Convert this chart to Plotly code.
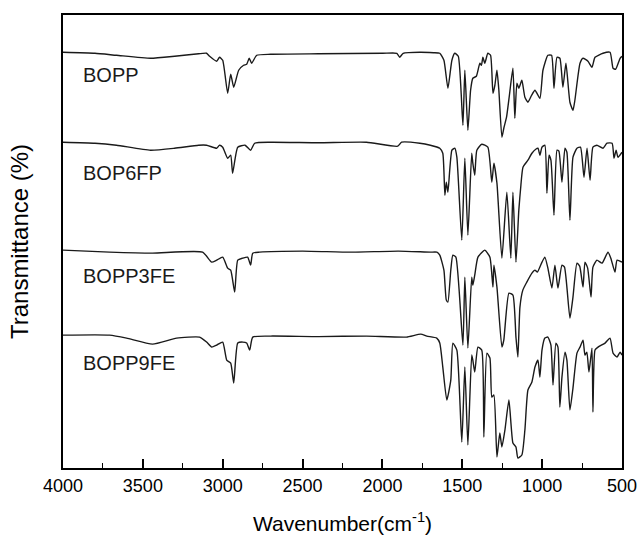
import plotly.graph_objects as go

# ---- data (wavenumber in cm^-1, transmittance in arbitrary offset units) ----
wn_bopp = [4000, 3800, 3665, 3452, 3301, 3151, 3101, 3082, 3038, 3020, 3000, 2969, 2950, 2931, 2900, 2869, 2850, 2834, 2819, 2787,
           2700, 2400, 1998, 1910, 1892, 1870, 1766, 1680, 1641, 1615, 1590, 1565, 1547, 1525, 1496, 1484, 1465, 1448, 1434, 1412,
           1390, 1380, 1371, 1359, 1340, 1323, 1308, 1296, 1283, 1271, 1252, 1240, 1223, 1205, 1183, 1171, 1158, 1146, 1127, 1108,
           1089, 1066, 1045, 1014, 995, 964, 941, 926, 907, 889, 870, 851, 826, 807, 795, 763, 744, 713, 688, 669,
           619, 575, 556, 540, 512, 500]
t_bopp = [416, 415, 413, 410, 412, 414.5, 415, 412, 407, 411, 408, 375, 394, 381, 398, 403, 404, 410, 405, 413,
          414, 414.5, 415, 415, 411, 415, 416, 415.5, 415, 408, 380, 408, 415, 412, 343, 398, 338, 378, 390, 392,
          405, 403, 411, 405, 415, 413, 375, 383, 398, 378, 331, 340, 351, 373, 400, 350, 385, 380, 388, 371,
          366, 373, 378, 370, 398, 413, 413, 380, 411, 410, 381, 405, 366, 358, 368, 405, 410, 407, 401, 411,
          415, 416, 400, 399, 410, 412]

wn_bop6fp = [4000, 3800, 3665, 3452, 3301, 3151, 3101, 3038, 3020, 3000, 2969, 2950, 2938, 2906, 2860, 2825, 2800, 2700, 2400, 2100,
             1904, 1880, 1766, 1700, 1641, 1622, 1609, 1600, 1590, 1565, 1547, 1534, 1503, 1484, 1465, 1441, 1434, 1422, 1409, 1378,
             1340, 1315, 1302, 1283, 1252, 1221, 1196, 1183, 1164, 1146, 1133, 1120, 1089, 1064, 1040, 1026, 1014, 1001, 983, 970,
             957, 945, 926, 907, 895, 876, 857, 845, 826, 807, 782, 760, 738, 719, 700, 682, 657, 619, 594, 562,
             550, 537, 525, 500]
t_bop6fp = [326, 325, 323, 318, 320, 323, 323, 320, 323, 321, 310, 313, 295, 321, 323, 318, 325, 326, 325.5, 326,
            322, 326, 325, 323, 320, 315, 273, 286, 276, 318, 320, 311, 228, 310, 233, 315, 305, 293, 318, 324,
            321, 286, 305, 285, 210, 276, 210, 276, 206, 258, 283, 301, 308, 315, 319, 320, 313, 321, 323, 275,
            313, 308, 253, 318, 317, 286, 320, 316, 248, 311, 320, 321, 291, 320, 288, 321, 323, 320, 325, 325,
            310, 318, 311, 316]

wn_bopp3fe = [4000, 3709, 3439, 3126, 3069, 3038, 3000, 2969, 2950, 2925, 2906, 2875, 2844, 2825, 2812, 2769, 2500, 2200, 1900, 1700,
              1659, 1641, 1615, 1600, 1590, 1572, 1559, 1540, 1496, 1484, 1465, 1441, 1434, 1422, 1402, 1359, 1327, 1308, 1302, 1283,
              1252, 1240, 1208, 1183, 1164, 1152, 1139, 1121, 1096, 1064, 1045, 1030, 1001, 983, 964, 939, 920, 901, 876, 860,
              826, 807, 782, 765, 744, 732, 715, 694, 682, 657, 625, 588, 570, 544, 531, 500]
t_bopp3fe = [218, 216, 215, 216, 206, 208, 211, 200, 198, 176, 208, 210, 211, 203, 215, 216, 217, 216, 217, 216,
             216, 213, 198, 168, 166, 198, 213, 211, 123, 191, 120, 191, 183, 193, 211, 218, 211, 181, 203, 181,
             121, 128, 175, 173, 131, 111, 161, 178, 186, 195, 198, 196, 206, 211, 200, 180, 203, 180, 203, 201,
             150, 171, 205, 202, 181, 206, 200, 171, 201, 208, 205, 216, 210, 196, 208, 206]

wn_bopp9fe = [4000, 3709, 3602, 3439, 3289, 3145, 3101, 3069, 3038, 3000, 2975, 2950, 2931, 2906, 2875, 2850, 2831, 2812, 2700, 2400,
              2100, 1850, 1760, 1722, 1660, 1641, 1622, 1597, 1572, 1559, 1534, 1503, 1484, 1465, 1441, 1434, 1422, 1402, 1378, 1365,
              1346, 1327, 1315, 1302, 1283, 1265, 1252, 1233, 1208, 1183, 1164, 1152, 1127, 1108, 1089, 1064, 1045, 1026, 1014, 1001,
              983, 964, 945, 932, 914, 901, 889, 876, 857, 845, 826, 807, 782, 763, 744, 732, 720, 707, 688, 682,
              669, 650, 606, 575, 556, 531, 512, 500]
t_bopp9fe = [133, 133, 130, 124, 130, 131, 126, 121, 123, 126, 108, 105, 85, 125, 126, 125, 118, 131, 132, 131.5,
             132, 131, 134, 132, 130, 125, 101, 68, 88, 125, 118, 26, 101, 23, 113, 108, 96, 121, 118, 31,
             115, 110, 71, 73, 11, 35, 21, 38, 68, 25, 21, 10, 13, 38, 78, 86, 101, 108, 91, 118,
             130, 131, 123, 83, 125, 121, 61, 91, 116, 108, 58, 80, 115, 121, 128, 113, 116, 96, 120, 56,
             118, 121, 125, 130, 115, 111, 116, 113]

names = ["BOPP", "BOP6FP", "BOPP3FE", "BOPP9FE"]
series = [(wn_bopp, t_bopp), (wn_bop6fp, t_bop6fp), (wn_bopp3fe, t_bopp3fe), (wn_bopp9fe, t_bopp9fe)]
label_x = 3890
label_y = [393, 295, 192, 105]

x_ticks = [4000, 3500, 3000, 2500, 2000, 1500, 1000, 500]

FONT = "Arial, 'Liberation Sans', Helvetica, sans-serif"

fig = go.Figure()
for name, (wx, ty) in zip(names, series):
    assert len(wx) == len(ty), name
    fig.add_trace(go.Scatter(x=wx, y=ty, mode="lines", name=name,
                             line=dict(color="#1a1a1a", width=1.4, shape="spline", smoothing=0.5),
                             showlegend=False))

for name, ly in zip(names, label_y):
    fig.add_annotation(x=label_x, y=ly, text=name, showarrow=False, xanchor="left", yanchor="middle",
                       font=dict(family=FONT, size=20, color="#1a1a1a"))

fig.update_xaxes(range=[4000, 500], tickvals=x_ticks, ticktext=[str(v) for v in x_ticks],
                 ticks="inside", ticklen=9, tickwidth=1.5, tickcolor="black",
                 minor=dict(ticks="inside", ticklen=5, tickwidth=1.2, tickcolor="black", dtick=250, tick0=0),
                 showline=True, linewidth=1.8, linecolor="black", mirror=True, showgrid=False, zeroline=False,
                 tickfont=dict(family=FONT, size=18, color="black"),
                 title=dict(text="Wavenumber(cm<sup>-1</sup>)", font=dict(family=FONT, size=21, color="black"), standoff=22),
                 automargin=False)
fig.update_yaxes(range=[0, 453.3], showticklabels=False, ticks="", showline=True, linewidth=1.8, linecolor="black",
                 mirror=True, showgrid=False, zeroline=False,
                 title=dict(text="Transmittance (%)", font=dict(family=FONT, size=24, color="black"), standoff=26),
                 automargin=False)

fig.update_layout(width=642, height=544, margin=dict(l=63, r=20, t=15, b=76),
                  paper_bgcolor="white", plot_bgcolor="white")

fig.write_html("out.html")
